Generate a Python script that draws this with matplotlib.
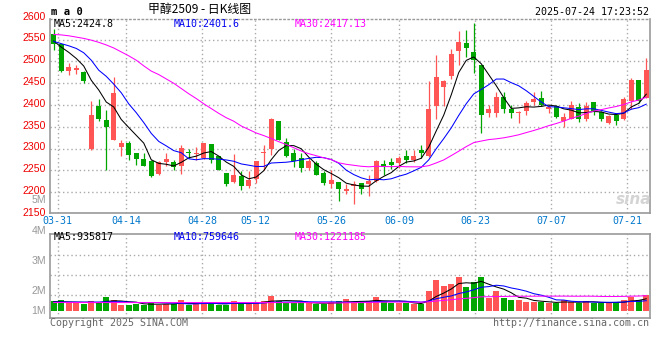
import numpy as np
import pandas as pd
import matplotlib
matplotlib.use("Agg")
import matplotlib.pyplot as plt
from matplotlib.transforms import blended_transform_factory

# daily candles, 80 trading days ending 07-24
opens = [2564, 2539, 2479, 2481, 2476, 2299, 2399, 2366, 2321, 2304,
         2313, 2290, 2277, 2271, 2243, 2270, 2270, 2260, 2292, 2287,
         2279, 2311, 2283, 2244, 2224, 2237, 2215, 2231, 2289, 2300,
         2364, 2315, 2290, 2279, 2256, 2267, 2244, 2220, 2224, 2204,
         2214, 2221, 2220, 2225, 2265, 2270, 2266, 2284, 2275, 2296,
         2283, 2399, 2441, 2466, 2524, 2543, 2521, 2491, 2382, 2382,
         2419, 2392, 2381, 2386, 2407, 2416, 2392, 2397, 2364, 2369,
         2396, 2369, 2407, 2384, 2359, 2378, 2367, 2409, 2458, 2416]
highs = [2575, 2541, 2497, 2491, 2478, 2410, 2415, 2388, 2465, 2321,
         2317, 2290, 2290, 2275, 2271, 2290, 2275, 2309, 2299, 2303,
         2313, 2311, 2283, 2244, 2288, 2248, 2248, 2272, 2309, 2370,
         2364, 2325, 2300, 2290, 2279, 2272, 2248, 2252, 2224, 2220,
         2225, 2221, 2239, 2275, 2275, 2279, 2284, 2296, 2296, 2308,
         2456, 2514, 2458, 2529, 2571, 2573, 2589, 2491, 2400, 2430,
         2430, 2400, 2386, 2409, 2430, 2433, 2400, 2400, 2382, 2410,
         2405, 2407, 2407, 2386, 2378, 2382, 2419, 2462, 2458, 2508]
lows = [2526, 2477, 2468, 2471, 2451, 2298, 2364, 2252, 2319, 2283,
        2275, 2262, 2260, 2234, 2240, 2260, 2252, 2243, 2279, 2273,
        2276, 2266, 2250, 2215, 2221, 2206, 2210, 2221, 2252, 2286,
        2321, 2282, 2258, 2247, 2250, 2239, 2217, 2210, 2181, 2197,
        2174, 2195, 2191, 2224, 2240, 2254, 2256, 2267, 2270, 2279,
        2281, 2367, 2397, 2460, 2493, 2510, 2474, 2336, 2373, 2373,
        2382, 2370, 2359, 2378, 2400, 2397, 2382, 2370, 2350, 2367,
        2361, 2364, 2377, 2364, 2357, 2355, 2366, 2392, 2405, 2416]
closes = [2541, 2479, 2488, 2485, 2455, 2378, 2367, 2350, 2428, 2312,
          2286, 2277, 2261, 2237, 2270, 2276, 2258, 2302, 2289, 2289,
          2312, 2275, 2250, 2220, 2240, 2215, 2229, 2271, 2292, 2367,
          2321, 2284, 2271, 2256, 2271, 2240, 2221, 2227, 2208, 2208,
          2220, 2208, 2225, 2271, 2258, 2263, 2279, 2275, 2284, 2289,
          2391, 2465, 2456, 2517, 2545, 2530, 2504, 2378, 2392, 2419,
          2392, 2381, 2384, 2405, 2415, 2400, 2396, 2373, 2373, 2400,
          2369, 2399, 2386, 2367, 2376, 2364, 2413, 2458, 2409, 2481]
volumes = [739, 831, 523, 523, 462, 739, 646, 1108, 831, 369,
           369, 462, 369, 646, 369, 462, 462, 831, 369, 462,
           646, 554, 369, 369, 739, 554, 462, 646, 739, 1200,
           739, 554, 554, 646, 554, 462, 462, 646, 739, 924,
           646, 554, 739, 1108, 739, 554, 554, 554, 431, 431,
           1693, 2678, 2124, 2309, 2955, 2032, 2494, 2955, 1016, 1693,
           1016, 831, 831, 646, 646, 646, 554, 554, 831, 646,
           554, 739, 554, 554, 554, 646, 831, 1108, 831, 1293]  # thousand lots

# averages for the first days, whose windows start before the chart
ma5_head = [2547, 2533, 2521, 2507]
ma10_head = [2546, 2541, 2536, 2530, 2520, 2503, 2480, 2466, 2448]
ma30_head = [2562, 2561, 2559, 2556, 2553, 2549, 2544, 2538, 2531, 2522,
             2513, 2503, 2490, 2478, 2470, 2460, 2450, 2438, 2426, 2415,
             2403, 2392, 2381, 2371, 2363, 2352, 2344, 2336, 2330]
vol_ma5_head = [680, 670, 650, 630]
vol_ma10_head = [640, 645, 640, 640, 635, 640, 645, 660, 670]
vol_ma30_head = [600, 600, 598, 598, 597, 597, 596, 596, 596, 595,
                 595, 595, 594, 594, 594, 594, 594, 595, 595, 595,
                 595, 595, 595, 595, 595, 595, 595, 595, 595]

tick_days = [1, 10, 20, 27, 37, 46, 56, 66, 76]
tick_labels = ['03-31', '04-14', '04-28', '05-12', '05-26',
               '06-09', '06-23', '07-07', '07-21']
price_ticks = [2600, 2550, 2500, 2450, 2400, 2350, 2300, 2250, 2200, 2150]
vol_tick_labels = ['5M', '4M', '3M', '2M', '1M']

RED = '#FF5555'
GREEN = '#00A600'
GRID = '#aaaaaa'
FRAME = '#999999'
MONO = 'DejaVu Sans Mono'
SANS = 'Liberation Sans'


def moving_avg(values, n, head):
    s = pd.Series(values, dtype=float).rolling(n).mean().values
    s[:n - 1] = head
    return s


def fpos(x, y):
    # pixel position -> figure fraction
    return x / 660, 1 - y / 360


n = len(closes)
x = np.arange(n)
o = np.array(opens, float)
c = np.array(closes, float)
vol = np.array(volumes, float) * 1000
col = np.where(c >= o, RED, GREEN)

fig = plt.figure(figsize=(6.6, 3.6), dpi=100)
ax = fig.add_axes([50 / 660, 1 - 213 / 360, 600 / 660, 194 / 360])
vax = fig.add_axes([50 / 660, 1 - 318 / 360, 600 / 660, 84 / 360])

# sina gridlines sit on a 79-step scale over 80 candles
grid_x = [d * n / (n - 1) - 0.5 for d in tick_days]
dot = (0, (1, 2))

# ---- price panel
ax.set_xlim(-0.5, n - 0.5)
ax.set_ylim(2152.4, 2597.5)
for p in price_ticks[1:-1]:
    ax.axhline(p, color=GRID, lw=1, ls=dot, zorder=0)
for g in grid_x:
    ax.axvline(g, color=GRID, lw=1, ls=dot, zorder=0)

ax.vlines(x, lows, highs, colors=col, lw=0.9, zorder=2)
body = np.maximum(np.abs(c - o), 2.2)
ax.bar(x, body, bottom=np.minimum(o, c), width=0.68, color=col,
       linewidth=0, zorder=2)

ax.plot(x, moving_avg(closes, 5, ma5_head), color='black', lw=0.75, zorder=3)
ax.plot(x, moving_avg(closes, 10, ma10_head), color='#0000FF', lw=0.75, zorder=3)
ax.plot(x, moving_avg(closes, 30, ma30_head), color='#FF00FF', lw=0.75, zorder=3)

# ---- volume panel
vax.set_xlim(-0.5, n - 0.5)
vax.set_ylim(-831e3, 6926e3)
for f in [0.274, 0.512, 0.75]:
    vax.plot([0, 1], [f, f], transform=vax.transAxes, color=GRID, lw=1,
             ls=dot, zorder=0)
for g in grid_x:
    vax.axvline(g, color=GRID, lw=1, ls=dot, zorder=0)

floor = -157e3
vax.bar(x, vol - floor, bottom=floor, width=0.76, color=col, linewidth=0,
        zorder=2)
vax.plot(x, moving_avg(vol, 5, np.array(vol_ma5_head) * 1000), color='black',
         lw=0.75, zorder=3)
vax.plot(x, moving_avg(vol, 10, np.array(vol_ma10_head) * 1000),
         color='#0000FF', lw=0.75, zorder=3)
vax.plot(x, moving_avg(vol, 30, np.array(vol_ma30_head) * 1000),
         color='#FF00FF', lw=0.75, zorder=3)

for a in (ax, vax):
    a.set_xticks([])
    a.set_yticks([])
    for s in a.spines.values():
        s.set_color(FRAME)
        s.set_linewidth(1.2)
ax.spines['top'].set_linestyle(dot)
ax.spines['top'].set_linewidth(1)

# ---- labels
lbl = blended_transform_factory(fig.transFigure, ax.transData)
for p in price_ticks:
    ax.text(46 / 660, p + 3, str(p), transform=lbl, ha='right', va='center',
            color='#EE0000', family=SANS, fontsize=7.6, clip_on=False)

dts = blended_transform_factory(ax.transData, fig.transFigure)
for g, t in zip(grid_x, tick_labels):
    ax.text(g, fpos(0, 220.5)[1], t, transform=dts, ha='center', va='center',
            color='#0077CC', family=MONO, fontsize=7.2, clip_on=False)

for t, yp in zip(vol_tick_labels, [200, 231, 261, 291, 311]):
    fig.text(*fpos(46, yp), t, ha='right', va='center', color='#999999',
             family=SANS, fontsize=7.6)

for txt, xp, cl in [('MA5:2424.8', 54, 'black'), ('MA10:2401.6', 174, '#0000EE'),
                    ('MA30:2417.13', 295, '#FF00FF')]:
    fig.text(*fpos(xp, 24), txt, ha='left', va='center', color=cl,
             family=MONO, fontsize=7.2)
for txt, xp, cl in [('MA5:935817', 54, 'black'), ('MA10:759646', 174, '#0000EE'),
                    ('MA30:1221185', 295, '#FF00FF')]:
    fig.text(*fpos(xp, 237.5), txt, ha='left', va='center', color=cl,
             family=MONO, fontsize=7.2)

fig.text(*fpos(200, 10), '甲醇2509 - 日K线图', ha='center', va='center',
         family=['Noto Sans CJK SC', 'DejaVu Sans'], fontsize=8.6)
fig.text(*fpos(51, 12), 'm a 0', ha='left', va='center', family=MONO,
         weight='bold', fontsize=7.6)
fig.text(*fpos(649, 12), '2025-07-24 17:23:52', ha='right', va='center',
         family=MONO, fontsize=7.2)
fig.text(*fpos(50, 323.5), 'Copyright 2025 SINA.COM', ha='left', va='center',
         family=MONO, fontsize=7.2, color='#666666')
fig.text(*fpos(649, 323.5), 'http://finance.sina.com.cn', ha='right',
         va='center', family=MONO, fontsize=7.2, color='#666666')
fig.text(*fpos(634, 199), 'sina', ha='center', va='center', family='DejaVu Sans',
         style='italic', weight='bold', fontsize=11, color='#d4d4d4')

fig.savefig('out.png', dpi=100)
